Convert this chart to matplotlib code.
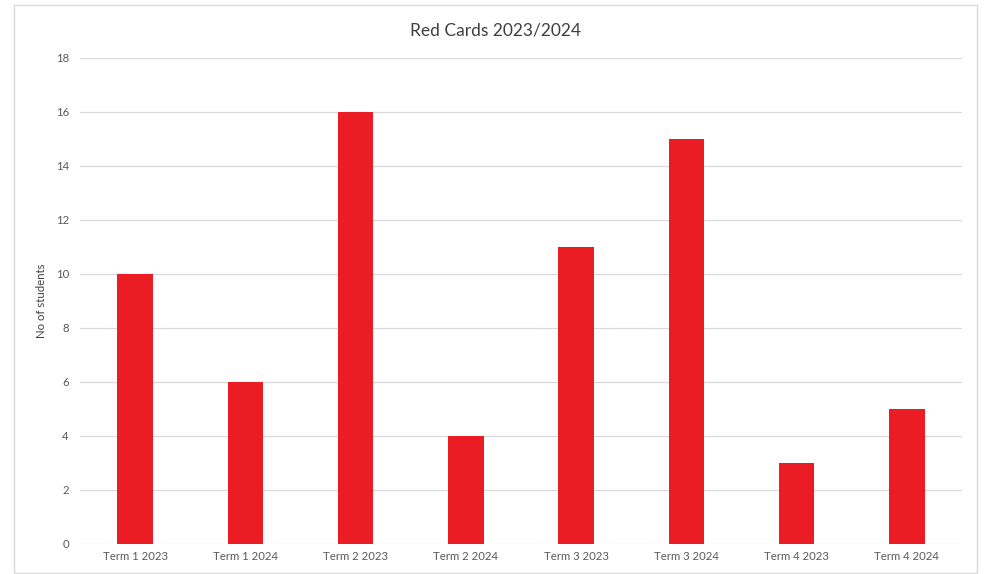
import matplotlib.pyplot as plt
from matplotlib.patches import Rectangle

categories = ['Term 1 2023', 'Term 1 2024', 'Term 2 2023', 'Term 2 2024',
              'Term 3 2023', 'Term 3 2024', 'Term 4 2023', 'Term 4 2024']
students = [10, 6, 16, 4, 11, 15, 3, 5]
yticks = list(range(0, 19, 2))

plt.rcParams['font.family'] = ['Lato', 'DejaVu Sans']

fig = plt.figure(figsize=(9.84, 5.74), dpi=100)
ax = fig.add_axes([80 / 984, 1 - 544 / 574, 882 / 984, 486 / 574])

ax.bar(range(len(categories)), students, width=0.32, color='#ec1c24', zorder=2)
ax.set_xlim(-0.5, len(categories) - 0.5)
ax.set_ylim(0, 18)
ax.set_yticks(yticks)
ax.set_xticks(range(len(categories)))
ax.set_xticklabels(categories)
ax.tick_params(axis='both', length=0, labelsize=8.2, colors='#595959', pad=8)
ax.tick_params(axis='x', pad=5)
ax.grid(axis='y', color='#d9d9d9', linewidth=0.9, zorder=0)
for s in ax.spines.values():
    s.set_visible(False)
ax.set_ylabel('No of students', fontsize=8.2, color='#404040', labelpad=6)

fig.text(496 / 984, 1 - 30 / 574, 'Red Cards 2023/2024', ha='center', va='center',
         fontsize=12.5, color='#404040')

fig.patches.append(Rectangle((14 / 984, 1 - 573 / 574), 963 / 984, 568 / 574,
                             transform=fig.transFigure, fill=False,
                             edgecolor='#d9d9d9', linewidth=1))

fig.savefig('out.png', dpi=100)
